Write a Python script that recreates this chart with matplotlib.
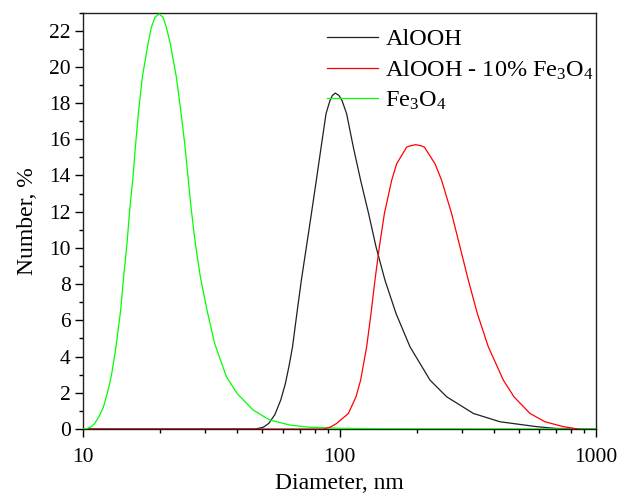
import matplotlib
matplotlib.use("Agg")
import matplotlib.pyplot as plt
from matplotlib.ticker import MultipleLocator, FixedLocator, FuncFormatter, LogLocator

plt.rcParams['font.family'] = ['Liberation Serif', 'DejaVu Serif']
plt.rcParams['mathtext.fontset'] = 'custom'
plt.rcParams['mathtext.rm'] = 'Liberation Serif'
plt.rcParams['mathtext.it'] = 'Liberation Serif:italic'

# Size distributions (diameter in nm, number in %)
alooh_d = [10, 47, 50.5, 53, 56, 59, 61.5, 63.6, 65.6, 68.2, 71.0, 74.3, 77.7,
           81.2, 84.8, 88.6, 91.8, 93.8, 96.3, 99.5, 102.3, 106.6, 113.2, 120.9,
           129.9, 138.8, 150.4, 166.1, 188.3, 225.4, 261.7, 332.6, 422.6,
           587.1, 700, 1000]
alooh_v = [0, 0, 0.1, 0.31, 0.8, 1.6, 2.5, 3.5, 4.54, 6.38, 8.22, 10.06, 11.89,
           13.73, 15.57, 17.41, 18.14, 18.42, 18.55, 18.42, 18.14, 17.41, 15.57, 13.73,
           11.89, 10.06, 8.22, 6.38, 4.54, 2.7, 1.78, 0.86, 0.4,
           0.13, 0.03, 0]

mix_d = [10.5, 86.5, 92, 97.5, 108.3, 116, 120.9, 127.6, 132.7, 137.5, 143,
         149.6, 159.7, 167.1, 182.8, 190.1, 198.2, 207, 214.2, 235.7, 250.2, 273.7,
         295, 317.9, 344.6, 380.4, 435.3, 478.9, 552.9, 632.7, 746, 850]
mix_v = [0, 0, 0.1, 0.31, 0.86, 1.78, 2.7, 4.54, 6.38, 8.22, 10.06,
         11.89, 13.73, 14.65, 15.57, 15.65, 15.7, 15.65, 15.57, 14.65, 13.73, 11.89,
         10.06, 8.22, 6.38, 4.54, 2.7, 1.78, 0.86, 0.4, 0.13, 0]

fe_d = [10, 10.4, 10.78, 11.1, 11.5, 12.0, 12.5, 12.9, 13.4, 14.02, 14.4, 14.84,
        15.2, 15.66, 16.04, 16.48, 17.03, 17.92, 18.47, 19.09, 19.79, 20.5, 21.13,
        21.9, 23.12, 24.04, 24.92, 25.67, 26.45, 27.41, 28.67, 30.44, 32.61, 36.22,
        39.85, 46.01, 53.42, 63.93, 76, 100, 140, 1000]
fe_v = [0, 0.03, 0.13, 0.3, 0.65, 1.2, 2.1, 2.95, 4.4, 6.56, 8.4, 10.24,
        12.08, 13.91, 15.75, 17.59, 19.43, 21.27, 22.19, 22.74, 22.92, 22.74, 22.19,
        21.27, 19.43, 17.59, 15.75, 13.91, 12.08, 10.24, 8.4, 6.56, 4.72, 2.89,
        1.97, 1.05, 0.5, 0.22, 0.1, 0.04, 0.02, 0]

labels = ['AlOOH', 'AlOOH - 10% Fe$_3$O$_4$', 'Fe$_3$O$_4$']

fig = plt.figure(figsize=(6.21, 4.97), dpi=100)
ax = fig.add_axes([0.1337, 0.1368, 0.826, 0.838])

l1, = ax.plot(alooh_d, alooh_v, color='#202020', lw=0.9, zorder=2)
l3, = ax.plot(fe_d, fe_v, color='#00ff00', lw=0.9, zorder=3)
l2, = ax.plot(mix_d, mix_v, color='#ff0000', lw=0.9, zorder=4)

ax.set_xscale('log')
ax.set_xlim(10, 1000)
ax.set_ylim(0, 23)

ax.xaxis.set_major_locator(FixedLocator([10, 100, 1000]))
ax.xaxis.set_major_formatter(FuncFormatter(lambda v, p: '%d' % v))
ax.xaxis.set_minor_locator(LogLocator(base=10, subs=range(2, 10)))
ax.xaxis.set_minor_formatter(FuncFormatter(lambda v, p: ''))
ax.yaxis.set_major_locator(MultipleLocator(2))
ax.yaxis.set_minor_locator(MultipleLocator(1))

ax.tick_params(which='major', direction='out', length=6, width=1.0, labelsize=15.5,
               top=False, right=False, pad=3)
ax.tick_params(axis='x', which='major', pad=8)
ax.tick_params(which='minor', direction='out', length=3, width=1.0,
               top=False, right=False)
for s in ax.spines.values():
    s.set_linewidth(1.0)
    s.set_color('#202020')

ax.set_xlabel('Diameter, nm', fontsize=17, labelpad=4)
ax.set_ylabel('Number, %', fontsize=17, labelpad=8)

ax.legend([l1, l2, l3], labels, loc='upper left', bbox_to_anchor=(0.4756, 0.962),
          frameon=False, fontsize=17.5, handlelength=2.1, handletextpad=0.3,
          labelspacing=0.33, borderpad=0, borderaxespad=0)

fig.savefig('out.png', dpi=100)
